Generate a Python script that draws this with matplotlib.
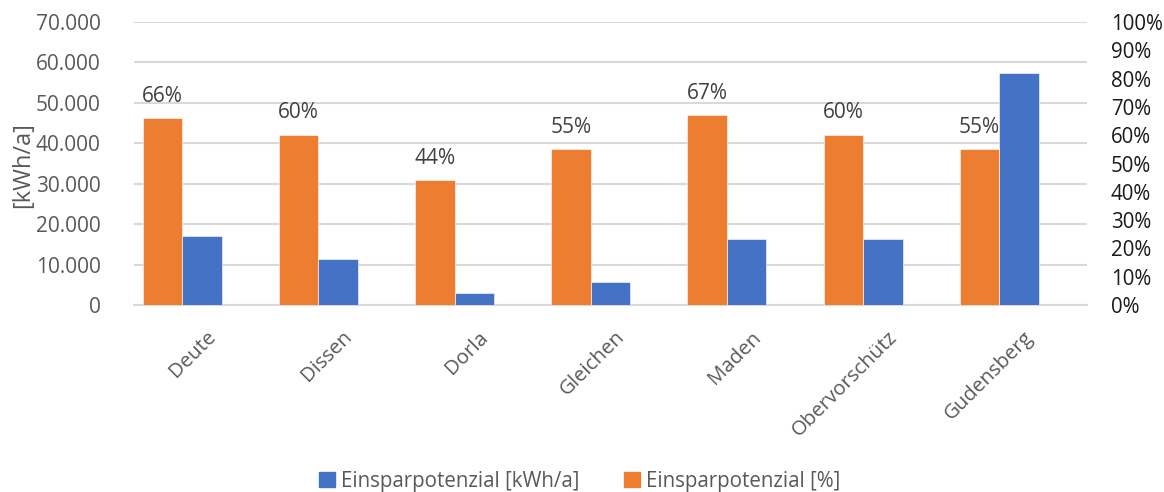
import matplotlib
matplotlib.use("Agg")
import matplotlib.pyplot as plt
from matplotlib.ticker import FuncFormatter, MultipleLocator
from matplotlib.patches import Patch
from matplotlib.transforms import ScaledTranslation
import numpy as np

plt.rcParams['font.family'] = ['Open Sans', 'DejaVu Sans']

orte = ["Deute", "Dissen", "Dorla", "Gleichen", "Maden", "Obervorschütz", "Gudensberg"]
einsparung_kwh = [17000, 11500, 3000, 5600, 16300, 16400, 57500]
einsparung_pct = [66, 60, 44, 55, 67, 60, 55]

BLUE = "#4472C4"
ORANGE = "#ED7D31"
GREY = "#595959"
GRID = "#D9D9D9"

fig = plt.figure(figsize=(11.64, 4.92), dpi=100)
ax = fig.add_axes([0.1151, 0.380, 0.8188, 0.5753])
ax2 = ax.twinx()

x = np.arange(len(orte))
w = 0.29

ax.bar(x, einsparung_kwh, width=w, color=BLUE, align="center", zorder=3,
       edgecolor="white", linewidth=0.4)
bars_pct = ax2.bar(x - w, einsparung_pct, width=w, color=ORANGE, align="center",
                   zorder=3, edgecolor="white", linewidth=0.4)

ax.set_ylim(0, 70000)
ax2.set_ylim(0, 100)
ax.set_xlim(-0.5, len(orte) - 0.5)

ax.yaxis.set_major_locator(MultipleLocator(10000))
ax.yaxis.set_major_formatter(FuncFormatter(lambda v, p: f"{int(v):,}".replace(",", ".")))
ax2.yaxis.set_major_locator(MultipleLocator(10))
ax2.yaxis.set_major_formatter(FuncFormatter(lambda v, p: f"{int(v)}%"))

ax.grid(axis="y", color=GRID, linewidth=1.5, zorder=0)
ax.set_axisbelow(True)
for a in (ax, ax2):
    for s in a.spines.values():
        s.set_visible(False)
ax.spines["bottom"].set_visible(True)
ax.spines["bottom"].set_color(GRID)
ax.spines["bottom"].set_linewidth(1.5)

ax.tick_params(axis="y", length=0, pad=24, labelsize=15, labelcolor=GREY)
ax2.tick_params(axis="y", length=0, pad=17, labelsize=14.8, labelcolor="#1a1a1a")
ax.set_xticks(x)
ax.set_xticklabels(orte, rotation=45, ha="right", rotation_mode="anchor",
                   fontsize=14.7, color=GREY)
ax.tick_params(axis="x", length=0, pad=16)
shift = ScaledTranslation(4 / 100, 0, fig.dpi_scale_trans)
for lbl in ax.get_xticklabels():
    lbl.set_transform(lbl.get_transform() + shift)

ax.set_ylabel("[kWh/a]", fontsize=17, color=GREY)
ax.yaxis.set_label_coords(-0.104, 0.495)

for rect, val in zip(bars_pct, einsparung_pct):
    ax2.annotate(f"{val}%", (rect.get_x() + rect.get_width() / 2, rect.get_height()),
                 xytext=(0, 16), textcoords="offset points", ha="center",
                 va="center", fontsize=15, color="#404040", zorder=5)

handles = [Patch(color=BLUE), Patch(color=ORANGE)]
fig.legend(handles, ["Einsparpotenzial [kWh/a]", "Einsparpotenzial [%]"],
           loc="center", bbox_to_anchor=(0.498, 0.022), ncol=2, frameon=False,
           fontsize=14.8, labelcolor=GREY, handlelength=0.75, handleheight=0.75,
           handletextpad=0.3, columnspacing=2.2)

fig.savefig("out.png", dpi=100)
